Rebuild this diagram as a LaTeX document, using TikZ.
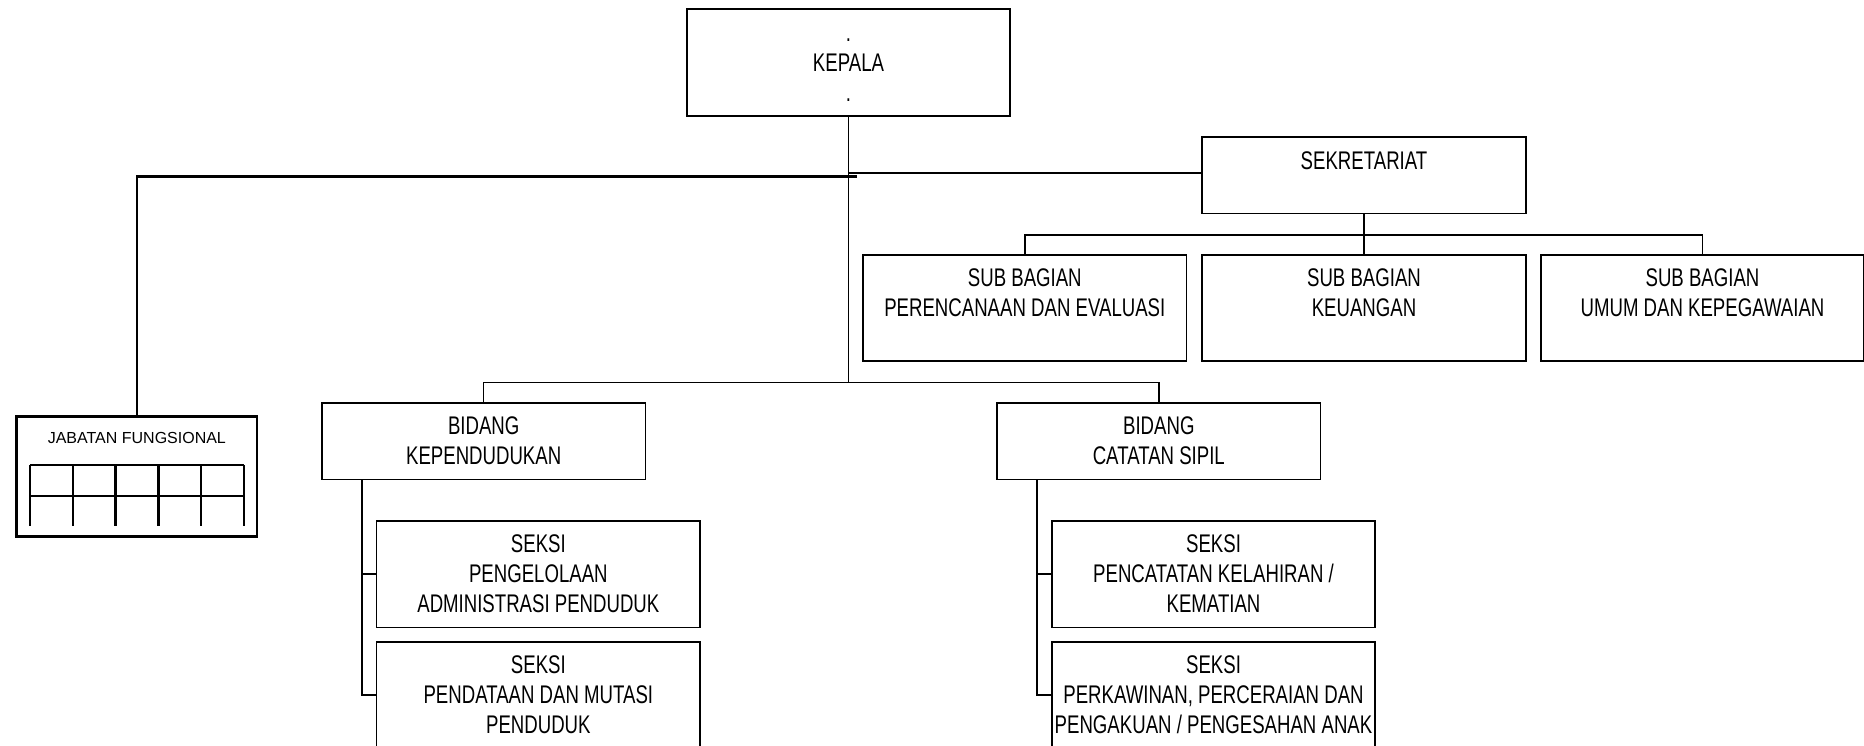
\documentclass[tikz,border=0pt]{standalone}
\usepackage{fontspec}
\setmainfont{Liberation Sans}
\newfontfamily\narrowfont{Liberation Sans}[FakeStretch=0.73]
\usetikzlibrary{calc}
% fixed line height so that multi-line labels centre on their cap lines
\newcommand\tstrut{\rule[-5.5pt]{0pt}{23.8pt}}

\begin{document}
\begin{tikzpicture}[x=1pt,y=-1pt,
  unitbox/.style={draw, line width=1.6pt, outer sep=0pt, inner sep=0pt, minimum width=323.5pt},
  boxtext/.style={align=center, inner sep=0pt, font=\narrowfont\fontsize{25.5pt}{30pt}\selectfont},
  link/.style={line width=1.5pt},
  heavy/.style={line width=2.5pt},
]
\fill[white] (0,0) rectangle (1864,746);
\useasboundingbox (0,0) rectangle (1864,746);

% ---------- boxes ----------
\node[unitbox, minimum height=107pt]   (kepala)       at (848.5,62.5) {};
\node[unitbox, minimum height=76.4pt]  (sekretariat)  at (1364,175.5) {};
\node[unitbox, minimum height=106pt]   (perencanaan)  at (1024.8,308) {};
\node[unitbox, minimum height=106pt]   (keuangan)     at (1364,308) {};
\node[unitbox, minimum height=106pt]   (umum)         at (1702.5,308) {};
\node[unitbox, minimum height=76.6pt]  (kependudukan) at (483.7,441) {};
\node[unitbox, minimum height=76.6pt]  (capil)        at (1158.8,441) {};
\node[unitbox, minimum height=106.6pt] (adminduk)     at (538.35,574) {};
\node[unitbox, minimum height=106.6pt] (mutasi)       at (538.35,695) {};
\node[unitbox, minimum height=106.6pt] (kelahiran)    at (1213.5,574) {};
\node[unitbox, minimum height=106.6pt] (perkawinan)   at (1213.5,695) {};
\node[draw, heavy, outer sep=0pt, inner sep=0pt, minimum width=240.3pt, minimum height=120pt]
      (jabatan) at (136.85,476.7) {};

% ---------- labels ----------
\node[boxtext] (kepala-t) at (848.5,65.5) {\tstrut .\\\tstrut KEPALA\\\tstrut .};
\node[boxtext] (sekretariat-t) at (1364,163.5) {\tstrut SEKRETARIAT};
\node[boxtext] (perencanaan-t) at (1024.8,295.5) {\tstrut SUB BAGIAN\\\tstrut PERENCANAAN DAN EVALUASI};
\node[boxtext] (keuangan-t) at (1364,295.5) {\tstrut SUB BAGIAN\\\tstrut KEUANGAN};
\node[boxtext] (umum-t) at (1702.5,295.5) {\tstrut SUB BAGIAN\\\tstrut UMUM DAN KEPEGAWAIAN};
\node[boxtext] (kependudukan-t) at (483.7,443.5) {\tstrut BIDANG\\\tstrut KEPENDUDUKAN};
\node[boxtext] (capil-t) at (1158.8,443.5) {\tstrut BIDANG\\\tstrut CATATAN SIPIL};
\node[boxtext] (adminduk-t) at (538.35,576.5) {\tstrut SEKSI\\\tstrut PENGELOLAAN\\\tstrut ADMINISTRASI PENDUDUK};
\node[boxtext] (mutasi-t) at (538.35,697.5) {\tstrut SEKSI\\\tstrut PENDATAAN DAN MUTASI\\\tstrut PENDUDUK};
\node[boxtext] (kelahiran-t) at (1213.5,576.5) {\tstrut SEKSI\\\tstrut PENCATATAN KELAHIRAN /\\\tstrut KEMATIAN};
\node[boxtext] (perkawinan-t) at (1213.5,697.5) {\tstrut SEKSI\\\tstrut PERKAWINAN, PERCERAIAN DAN\\\tstrut PENGAKUAN / PENGESAHAN ANAK};
\node[anchor=base, inner sep=0pt, font=\fontsize{16pt}{19pt}\selectfont] (jabatan-t) at (136.85,443.5) {JABATAN FUNGSIONAL};

% ---------- grid inside the functional positions box ----------
\draw[heavy] (30,465) -- (244,465);
\draw[heavy] (30,496) -- (244,496);
\foreach \gx in {30,72.8,115.6,158.4,201.2,244}
  \draw[heavy] (\gx,465) -- (\gx,526);

% ---------- connectors ----------
\coordinate (bus) at (848.5,382.3);
\coordinate (sekjoin) at (848.5,173.5);
\coordinate (fungjoin) at (857,176.7);
\coordinate (subbus) at (1364,235);
\coordinate (kspine) at ($(kependudukan.south west)+(40,0)$);
\coordinate (cspine) at ($(capil.south west)+(40,0)$);

\draw[link] (kepala.south) -- (bus);
\draw[link] (kependudukan.north) |- (bus) -| (capil.north);
\draw[link, line width=2pt] (sekjoin) -- (sekjoin -| sekretariat.west);
\draw[heavy] (fungjoin) -| (jabatan.north);
\draw[link] (sekretariat.south) -- (keuangan.north);
\draw[link] (perencanaan.north) |- (subbus) -| (umum.north);
\draw[link] (kspine) |- (adminduk.west);
\draw[link] (kspine) |- (mutasi.west);
\draw[link] (cspine) |- (kelahiran.west);
\draw[link] (cspine) |- (perkawinan.west);
\end{tikzpicture}
\end{document}
